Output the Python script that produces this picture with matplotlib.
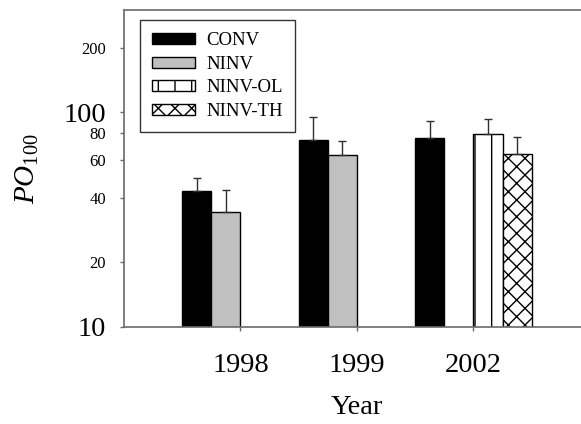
import matplotlib.pyplot as plt
import numpy as np

plt.rcParams["font.family"] = ["Liberation Serif", "DejaVu Serif"]
plt.rcParams["mathtext.fontset"] = "custom"
plt.rcParams["mathtext.rm"] = "Liberation Serif"
plt.rcParams["mathtext.it"] = "Liberation Serif:italic"
plt.rcParams["hatch.linewidth"] = 1.0

years = ["1998", "1999", "2002"]
series = ["CONV", "NINV", "NINV-OL", "NINV-TH"]
conv = [42.8, 74.0, 76.0]
conv_err = [6.7, 21.2, 15.2]
ninv = [34.2, 63.3, np.nan]
ninv_err = [9.3, 10.3, np.nan]
ninv_ol = [np.nan, np.nan, 79.3]
ninv_ol_err = [np.nan, np.nan, 13.9]
ninv_th = [np.nan, np.nan, 64.0]
ninv_th_err = [np.nan, np.nan, 12.8]

yticks = [10, 20, 40, 60, 80, 100, 200]

values = [conv, ninv, ninv_ol, ninv_th]
errors = [conv_err, ninv_err, ninv_ol_err, ninv_th_err]
styles = [
    dict(color="black", hatch=None),
    dict(color="#c0c0c0", hatch=None),
    dict(color="white", hatch="|"),
    dict(color="white", hatch="xx"),
]

spine_col = "#6a6a6a"

fig = plt.figure(figsize=(5.81, 4.24), dpi=100)
ax = fig.add_axes([0.2134, 0.2288, 0.802, 0.7476])

x = np.arange(1, len(years) + 1)
width = 0.25
offsets = [-0.375, -0.125, 0.125, 0.375]

for vals, errs, st, off, name in zip(values, errors, styles, offsets, series):
    vals = np.array(vals, dtype=float)
    errs = np.array(errs, dtype=float)
    ax.bar(x + off, vals, width=width, color=st["color"], edgecolor="black",
           linewidth=1.0, hatch=st["hatch"], label=name, zorder=2)
    ok = ~np.isnan(vals)
    ax.errorbar((x + off)[ok], vals[ok], yerr=[np.zeros(ok.sum()), errs[ok]],
                fmt="none", ecolor="#303030", elinewidth=1.0, capsize=3.2,
                capthick=1.0, zorder=3)

ax.set_yscale("log")
ax.set_ylim(10, 300)
ax.set_xlim(0, 4)
ax.yaxis.set_minor_locator(plt.NullLocator())
ax.set_yticks(yticks)
ax.set_yticklabels([str(t) for t in yticks])
for lab, t in zip(ax.get_yticklabels(), yticks):
    lab.set_fontsize(20.5 if t in (10, 100) else 12)

ax.set_xticks(x)
ax.set_xticklabels(years, fontsize=20.5)

ax.tick_params(axis="y", direction="out", length=3, width=1, color=spine_col, pad=10)
ax.tick_params(axis="x", direction="out", length=3, width=1, color=spine_col, pad=16)

for side in ("left", "bottom", "top"):
    ax.spines[side].set_color(spine_col)
    ax.spines[side].set_linewidth(1.2)
ax.spines["right"].set_visible(False)

ax.set_xlabel("Year", fontsize=20.5, labelpad=12)
ax.set_ylabel(r"$\mathit{PO}_{\mathrm{100}}$", fontsize=21, labelpad=16)

leg = ax.legend(loc="upper left", bbox_to_anchor=(0.034, 0.968), borderaxespad=0,
                fontsize=13.5, frameon=True, fancybox=False, edgecolor="black",
                handlelength=2.3, handleheight=0.5, handletextpad=0.6,
                labelspacing=0.35, borderpad=0.65)
leg.get_frame().set_linewidth(1.0)

fig.savefig("out.png", dpi=100)
